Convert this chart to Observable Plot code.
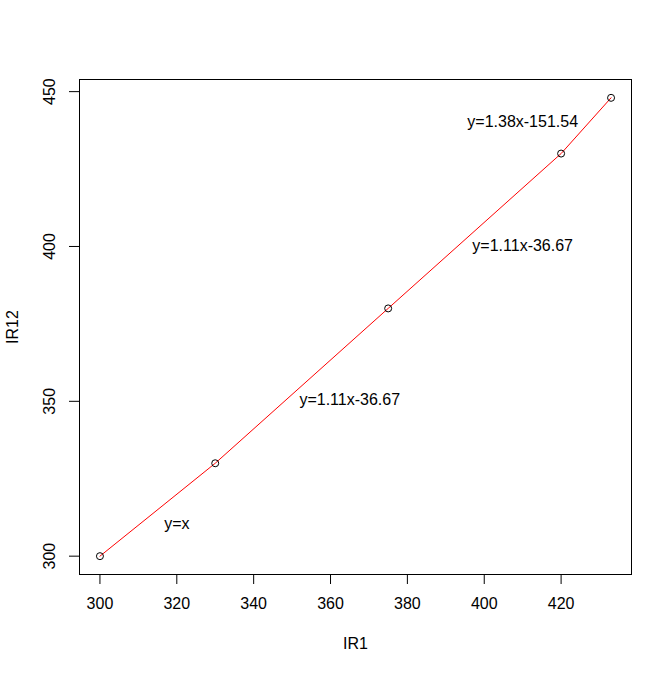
<!DOCTYPE html>
<html>
<head>
<meta charset="utf-8">
<script src="https://cdn.jsdelivr.net/npm/d3@7"></script>
<script src="https://cdn.jsdelivr.net/npm/@observablehq/plot@0.6"></script>
<style>
  html, body { margin: 0; padding: 0; background: white; }
</style>
</head>
<body>
<div id="chart"></div>
<script>
const ir1 = [300, 330, 375, 420, 433];
const ir12 = [300, 330, 380, 430, 448];

const labelText = ["y=x", "y=1.11x-36.67", "y=1.11x-36.67", "y=1.38x-151.54"];
const labelX = [320, 365, 410, 410];
const labelY = [310, 350, 400, 440];

const xTicks = [300, 320, 340, 360, 380, 400, 420];
const yTicks = [300, 350, 400, 450];

const points = ir1.map((x, i) => ({x, y: ir12[i]}));
const labels = labelText.map((t, i) => ({t, x: labelX[i], y: labelY[i]}));

// R-style 4% axis extension
const ext = (arr) => {
  const lo = d3.min(arr), hi = d3.max(arr), d = (hi - lo) * 0.04;
  return [lo - d, hi + d];
};

const chart = Plot.plot({
  width: 671,
  height: 673,
  marginLeft: 79,
  marginRight: 40,
  marginTop: 79,
  marginBottom: 99,
  style: {
    fontFamily: "'Liberation Sans', Arial, Helvetica, sans-serif",
    fontSize: "16px",
    background: "white",
    color: "black"
  },
  x: {domain: ext(ir1)},
  y: {domain: ext(ir12)},
  marks: [
    Plot.frame({stroke: "black", strokeWidth: 1}),
    Plot.axisX({
      ticks: xTicks, tickSize: 10, tickPadding: 13,
      label: "IR1", labelAnchor: "center", labelArrow: "none", labelOffset: 74,
      fontSize: 16
    }),
    Plot.axisY({
      ticks: yTicks, tickSize: 10, tickPadding: 15, tickRotate: -90,
      label: "IR12", labelAnchor: "center", labelArrow: "none", labelOffset: 73,
      fontSize: 16
    }),
    Plot.line(points, {x: "x", y: "y", stroke: "red", strokeWidth: 1}),
    Plot.dot(points, {x: "x", y: "y", r: 3.5, stroke: "black", strokeWidth: 1, fill: "none"}),
    Plot.text(labels, {x: "x", y: "y", text: "t", fill: "black", fontSize: 16, textAnchor: "middle", lineAnchor: "middle", dy: -1})
  ]
});

document.getElementById("chart").appendChild(chart);
</script>
</body>
</html>
